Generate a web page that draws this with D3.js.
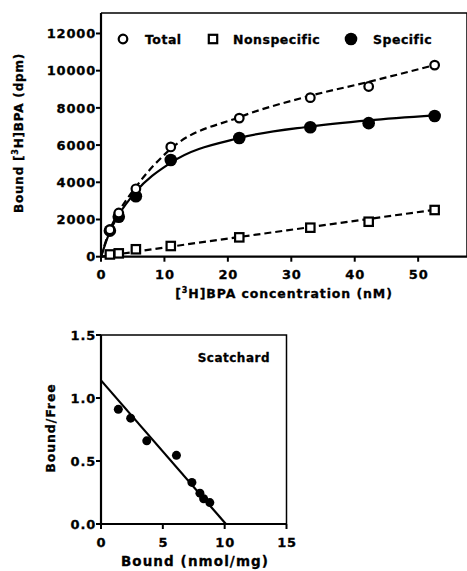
<!DOCTYPE html>
<html>
<head>
<meta charset="utf-8">
<script src="https://cdn.jsdelivr.net/npm/d3@7/dist/d3.min.js"></script>
<style>
  body { margin: 0; background: #fff; }
  text { font-family: "DejaVu Sans", Verdana, sans-serif; font-weight: bold; fill: #000; stroke: #000; stroke-width: 0.3; }
</style>
</head>
<body>
<div id="chart"></div>
<script>
// ── Saturation binding data ───────────────────────────────────────────────
const conc        = [1.4, 2.8, 5.5, 11, 21.8, 33, 42.2, 52.6];
const total       = [1450, 2350, 3650, 5900, 7450, 8550, 9150, 10300];
const nonspecific = [120, 180, 400, 575, 1040, 1560, 1880, 2510];
const specific    = [1400, 2150, 3250, 5200, 6380, 6960, 7180, 7560];

// fitted curves
const fitConc        = [0, 1.4, 2.8, 5.5, 11, 21.8, 33, 42.2, 52.6];
const fitTotal       = [0, 1450, 2400, 3750, 5800, 7500, 8650, 9400, 10300];
const fitNonspecific = [0, 70, 140, 270, 540, 1060, 1590, 2030, 2520];
const fitSpecific    = [0, 1350, 2250, 3500, 5050, 6380, 7000, 7330, 7600];

const yTicksTop = [0, 2000, 4000, 6000, 8000, 10000, 12000];
const xTicksTop = [0, 10, 20, 30, 40, 50];

// ── Scatchard data ────────────────────────────────────────────────────────
const bound     = [1.4, 2.4, 3.7, 6.1, 7.35, 8.0, 8.3, 8.8];
const boundFree = [0.91, 0.84, 0.66, 0.545, 0.33, 0.245, 0.2, 0.17];
const lineBound = [0, 10.1];
const lineBF    = [1.14, 0];

const yTicksBot = [0, 0.5, 1.0, 1.5];
const xTicksBot = [0, 5, 10, 15];

const W = 467, H = 571;
const svg = d3.select('#chart').append('svg').attr('width', W).attr('height', H);

// ── Top panel ─────────────────────────────────────────────────────────────
const x1 = d3.scaleLinear().domain([0, 57.7]).range([101, 467]);
const y1 = d3.scaleLinear().domain([0, 13100]).range([256.7, 13]);

function axes(g, x, y, xt, yt, yfmt, xfmt) {
  const [xa, xb] = x.range(), [ya, yb] = y.range();
  // frame (top/right, thinner)
  g.append('path')
    .attr('d', `M${xa},${yb}H${xb}V${ya}`)
    .attr('fill', 'none').attr('stroke', '#000').attr('stroke-width', 1.5);
  // axis lines
  g.append('line').attr('x1', xa).attr('x2', xa).attr('y1', ya + 1).attr('y2', yb)
    .attr('stroke', '#000').attr('stroke-width', 2.2);
  g.append('line').attr('x1', xa - 1).attr('x2', xb).attr('y1', ya).attr('y2', ya)
    .attr('stroke', '#000').attr('stroke-width', 2.2);
  for (const t of yt) {
    g.append('line').attr('x1', xa - 5).attr('x2', xa).attr('y1', y(t)).attr('y2', y(t))
      .attr('stroke', '#000').attr('stroke-width', 2);
    g.append('text').attr('x', xa - 5).attr('y', y(t)).attr('dy', '0.36em')
      .attr('text-anchor', 'end').attr('font-size', 13).attr('letter-spacing', 0.8)
      .text(yfmt(t));
  }
  for (const t of xt) {
    g.append('line').attr('x1', x(t)).attr('x2', x(t)).attr('y1', ya).attr('y2', ya + 5)
      .attr('stroke', '#000').attr('stroke-width', 2);
    g.append('text').attr('x', x(t) + 0.5).attr('y', ya + 18).attr('dy', '0.36em')
      .attr('text-anchor', 'middle').attr('font-size', 13).attr('letter-spacing', 0.8)
      .text(xfmt(t));
  }
}

const gTop = svg.append('g');
axes(gTop, x1, y1, xTicksTop, yTicksTop, d => d, d => d);

const fitLine = (ys) => d3.line()
  .x((d, i) => x1(fitConc[i]))
  .y(d => y1(d))
  .curve(d3.curveMonotoneX)(ys);

gTop.append('path').attr('d', fitLine(fitTotal))
  .attr('fill', 'none').attr('stroke', '#000').attr('stroke-width', 2.2).attr('stroke-dasharray', '7,4');
gTop.append('path').attr('d', fitLine(fitNonspecific))
  .attr('fill', 'none').attr('stroke', '#000').attr('stroke-width', 2.2).attr('stroke-dasharray', '7,4');
gTop.append('path').attr('d', fitLine(fitSpecific))
  .attr('fill', 'none').attr('stroke', '#000').attr('stroke-width', 2.2);

// markers
gTop.selectAll('.ns').data(conc).join('rect')
  .attr('x', (d) => x1(d) - 4.2).attr('y', (d, i) => y1(nonspecific[i]) - 4.2)
  .attr('width', 8.4).attr('height', 8.4)
  .attr('fill', '#fff').attr('stroke', '#000').attr('stroke-width', 2.2);
gTop.selectAll('.sp').data(conc).join('circle')
  .attr('cx', d => x1(d)).attr('cy', (d, i) => y1(specific[i])).attr('r', 6.3)
  .attr('fill', '#000');
gTop.selectAll('.tot').data(conc).join('circle')
  .attr('cx', d => x1(d)).attr('cy', (d, i) => y1(total[i])).attr('r', 4.3)
  .attr('fill', '#fff').attr('stroke', '#000').attr('stroke-width', 2.2);

// legend
const lg = gTop.append('g').attr('transform', 'translate(0,39)');
lg.append('circle').attr('cx', 123).attr('cy', 0).attr('r', 4.3)
  .attr('fill', '#fff').attr('stroke', '#000').attr('stroke-width', 2.2);
lg.append('text').attr('x', 145).attr('dy', '0.36em').attr('font-size', 12.5).attr('letter-spacing', 0.5).text('Total');
lg.append('rect').attr('x', 208.8).attr('y', -4.2).attr('width', 8.4).attr('height', 8.4)
  .attr('fill', '#fff').attr('stroke', '#000').attr('stroke-width', 2.2);
lg.append('text').attr('x', 233).attr('dy', '0.36em').attr('font-size', 12.5).attr('letter-spacing', 0.5).text('Nonspecific');
lg.append('circle').attr('cx', 351).attr('cy', 0).attr('r', 6.3).attr('fill', '#000');
lg.append('text').attr('x', 373).attr('dy', '0.36em').attr('font-size', 12.5).attr('letter-spacing', 0.5).text('Specific');

// axis titles
const ytl = gTop.append('text').attr('transform', 'translate(23,133) rotate(-90)')
  .attr('text-anchor', 'middle').attr('font-size', 12).attr('letter-spacing', 0.8);
ytl.append('tspan').text('Bound [');
ytl.append('tspan').attr('font-size', 8).attr('dy', -5).text('3');
ytl.append('tspan').attr('dy', 5).text('H]BPA (dpm)');

const xtl = gTop.append('text').attr('x', 284).attr('y', 293).attr('dy', '0.36em')
  .attr('text-anchor', 'middle').attr('font-size', 12.5).attr('letter-spacing', 0.9);
xtl.append('tspan').text('[');
xtl.append('tspan').attr('font-size', 8).attr('dy', -5).text('3');
xtl.append('tspan').attr('dy', 5).text('H]BPA concentration (nM)');

// ── Bottom panel: Scatchard ──────────────────────────────────────────────
const x2 = d3.scaleLinear().domain([0, 15]).range([101, 286.5]);
const y2 = d3.scaleLinear().domain([0, 1.5]).range([524, 335]);

const gBot = svg.append('g');
axes(gBot, x2, y2, xTicksBot, yTicksBot, d3.format('.1f'), d => d);

gBot.append('path')
  .attr('d', d3.line().x((d, i) => x2(lineBound[i])).y(d => y2(d))(lineBF))
  .attr('fill', 'none').attr('stroke', '#000').attr('stroke-width', 2.2);

gBot.selectAll('.sc').data(bound).join('circle')
  .attr('cx', d => x2(d)).attr('cy', (d, i) => y2(boundFree[i])).attr('r', 4.5)
  .attr('fill', '#000');

gBot.append('text').attr('x', 270).attr('y', 358).attr('dy', '0.36em')
  .attr('text-anchor', 'end').attr('font-size', 12).attr('letter-spacing', 0.5).text('Scatchard');

gBot.append('text').attr('transform', 'translate(50,428) rotate(-90)').attr('dy', '0.36em')
  .attr('text-anchor', 'middle').attr('font-size', 12.5).attr('letter-spacing', 0.9).text('Bound/Free');
gBot.append('text').attr('x', 195).attr('y', 561).attr('dy', '0.36em')
  .attr('text-anchor', 'middle').attr('font-size', 13.5).attr('letter-spacing', 1.1).text('Bound (nmol/mg)');
</script>
</body>
</html>
